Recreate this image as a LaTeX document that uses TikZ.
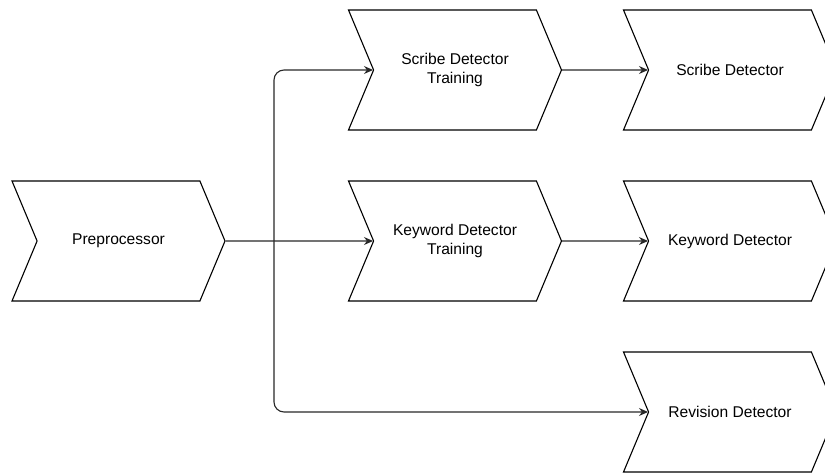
\documentclass[tikz,border=0pt]{standalone}
\usepackage{fontspec}
\setmainfont{Liberation Sans}
\usetikzlibrary{arrows.meta,shapes.symbols}
\definecolor{LineGray}{RGB}{40,40,40}

\tikzset{
  chev/.style={signal, signal from=west, signal to=east,
    signal pointer angle=134.6, draw=black, fill=white,
    line width=1.1pt, minimum width=213pt, minimum height=120pt,
    inner sep=0pt, align=center, font=\fontsize{15.6}{18.5}\selectfont},
  link/.style={-{Stealth[length=9pt,width=8pt]}, LineGray, line width=1.1pt,
    rounded corners=10pt}
}

\begin{document}
\begin{tikzpicture}[x=1pt,y=1pt]
  \useasboundingbox (0,0) rectangle (825,472);
  % stages
  \node[chev] (pre) at (118.5,231) {Preprocessor};
  \node[chev] (st)  at (455,402) {Scribe Detector\\Training};
  \node[chev] (kt)  at (455,231) {Keyword Detector\\Training};
  \node[chev] (sd)  at (730,402) {Scribe Detector};
  \node[chev] (kd)  at (730,231) {Keyword Detector};
  \node[chev] (rd)  at (730,60)  {Revision Detector};
  % fork after the preprocessor
  \coordinate (fork) at (274,231);
  \draw[link] (pre.east) -- (kt);
  \draw[link] (fork) |- (st);
  \draw[link] (fork) |- (rd);
  \draw[link] (st.east) -- (sd);
  \draw[link] (kt.east) -- (kd);
\end{tikzpicture}
\end{document}
